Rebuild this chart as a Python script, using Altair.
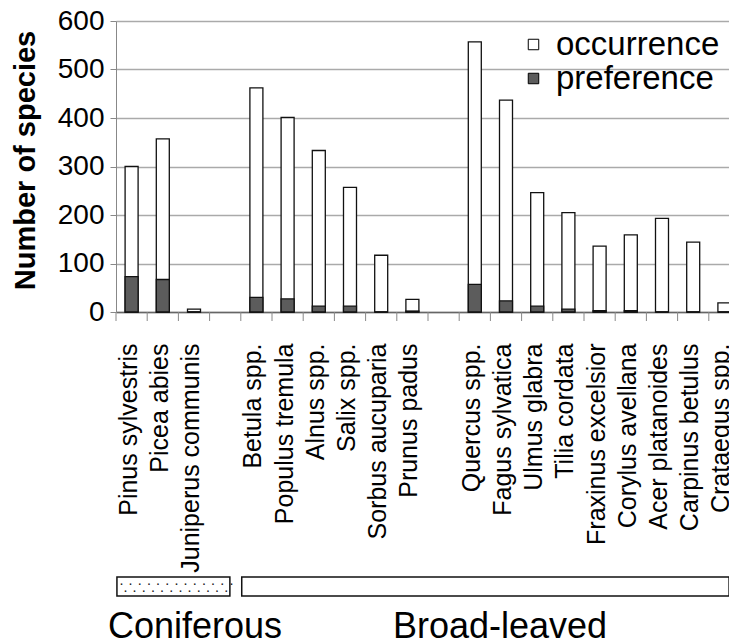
import altair as alt
import pandas as pd

species = ["Pinus sylvestris", "Picea abies", "Juniperus communis",
           "Betula spp.", "Populus tremula", "Alnus spp.", "Salix spp.",
           "Sorbus aucuparia", "Prunus padus",
           "Quercus spp.", "Fagus sylvatica", "Ulmus glabra", "Tilia cordata",
           "Fraxinus excelsior", "Corylus avellana", "Acer platanoides",
           "Carpinus betulus", "Crataegus spp."]
occurrence = [300, 357, 6, 462, 401, 333, 257, 117, 26,
              557, 437, 246, 205, 136, 159, 193, 144, 19]
preference = [73, 67, 0, 30, 27, 12, 12, 0, 2,
              57, 23, 12, 6, 3, 3, 0, 0, 0]

slot_order = species[:3] + ["gap1"] + species[3:9] + ["gap2"] + species[9:]

groups = ["Coniferous", "Broad-leaved"]
group_first = ["Pinus sylvestris", "Betula spp."]
group_last = ["gap1", "Crataegus spp."]
group_label_at = ["Juniperus communis", "Fagus sylvatica"]

FONT = "Liberation Sans"

rows = []
for s, o, p in zip(species, occurrence, preference):
    rows.append({"tree": s, "kind": "occurrence", "count": o})
    rows.append({"tree": s, "kind": "preference", "count": p})
bars_df = pd.DataFrame(rows)

groups_df = pd.DataFrame({"name": groups, "first": group_first,
                          "last": group_last, "label_at": group_label_at})
slots_df = pd.DataFrame({"slot": slot_order})

xscale = alt.Scale(domain=slot_order, paddingInner=0, paddingOuter=0)

bars = alt.Chart(bars_df).mark_bar(width=13, stroke="#111", strokeWidth=1.3).encode(
    x=alt.X("tree:N", scale=xscale,
            axis=alt.Axis(title=None, labelAngle=-90, labelFontSize=25, labelFont=FONT,
                          labelColor="black", labelLimit=0, tickSize=9, tickOpacity=0,
                          domainColor="#666", domainWidth=1.5, labelOffset=-3,
                          labelPadding=22, grid=False,
                          labelExpr="indexof(datum.value, 'gap') == 0 ? '' : datum.value")),
    y=alt.Y("count:Q", stack=None,
            scale=alt.Scale(domain=[0, 600], nice=False),
            axis=alt.Axis(values=[0, 100, 200, 300, 400, 500, 600],
                          title="Number of species", titleFont=FONT,
                          titleFontSize=29, titleFontWeight="bold", titleColor="black",
                          titlePadding=17, titleY=139,
                          labelFont=FONT, labelFontSize=28, labelColor="black",
                          gridColor="#aaa", gridWidth=1.5, domainColor="#888",
                          tickColor="#888", tickSize=6, labelPadding=6)),
    color=alt.Color("kind:N",
                    scale=alt.Scale(domain=["occurrence", "preference"],
                                    range=["white", "#5c5c5c"]),
                    legend=alt.Legend(title=None, orient="none", legendX=401, legendY=7,
                                      symbolType="square", symbolSize=110,
                                      symbolStrokeColor="black", symbolStrokeWidth=1,
                                      labelFont=FONT, labelFontSize=33, labelColor="black",
                                      labelLimit=0, labelOffset=6, rowPadding=0))
)

ticks = alt.Chart(slots_df).mark_rule(color="#888", strokeWidth=1).encode(
    x=alt.X("slot:N", scale=xscale, bandPosition=0),
    y=alt.value(291),
    y2=alt.value(300),
)

boxes = alt.Chart(groups_df).mark_rect(stroke="#111", strokeWidth=1.5).encode(
    x=alt.X("first:N", scale=xscale, bandPosition=0.03),
    x2=alt.X2("last:N", bandPosition=0.65),
    y=alt.value(556),
    y2=alt.value(575),
    fill=alt.Fill("name:N", scale=alt.Scale(domain=groups, range=["white", "white"]),
                  legend=None),
)

def dot_row(y, dx, pattern):
    return alt.Chart(groups_df).transform_filter(
        alt.datum.name == "Coniferous"
    ).transform_calculate(
        dots="'" + pattern + "'"
    ).mark_text(align="left", baseline="middle", font=FONT, fontSize=15,
                color="#222", dx=dx).encode(
        x=alt.X("first:N", scale=xscale, bandPosition=0.03),
        y=alt.value(y),
        text="dots:N",
    )

def group_label(name, band):
    return alt.Chart(groups_df).transform_filter(
        alt.datum.name == name
    ).mark_text(align="center", baseline="alphabetic", font=FONT, fontSize=36,
                color="black").encode(
        x=alt.X("label_at:N", scale=xscale, bandPosition=band),
        y=alt.value(617),
        text="name:N",
    )

chart = alt.layer(bars, ticks, boxes,
                  dot_row(562, 2, "· · · · · · · · · · · · ·"),
                  dot_row(569, 6, "· · · · · · · · · · · ·"),
                  group_label("Coniferous", 0.53),
                  group_label("Broad-leaved", 0.31)).properties(
    width=624, height=291,
    autosize=alt.AutoSizeParams(type="none"),
    padding={"left": 108, "top": 13, "right": -11, "bottom": 330},
).configure_view(stroke=None)

chart.save("out.html", embed_options={"renderer": "svg", "actions": False})
